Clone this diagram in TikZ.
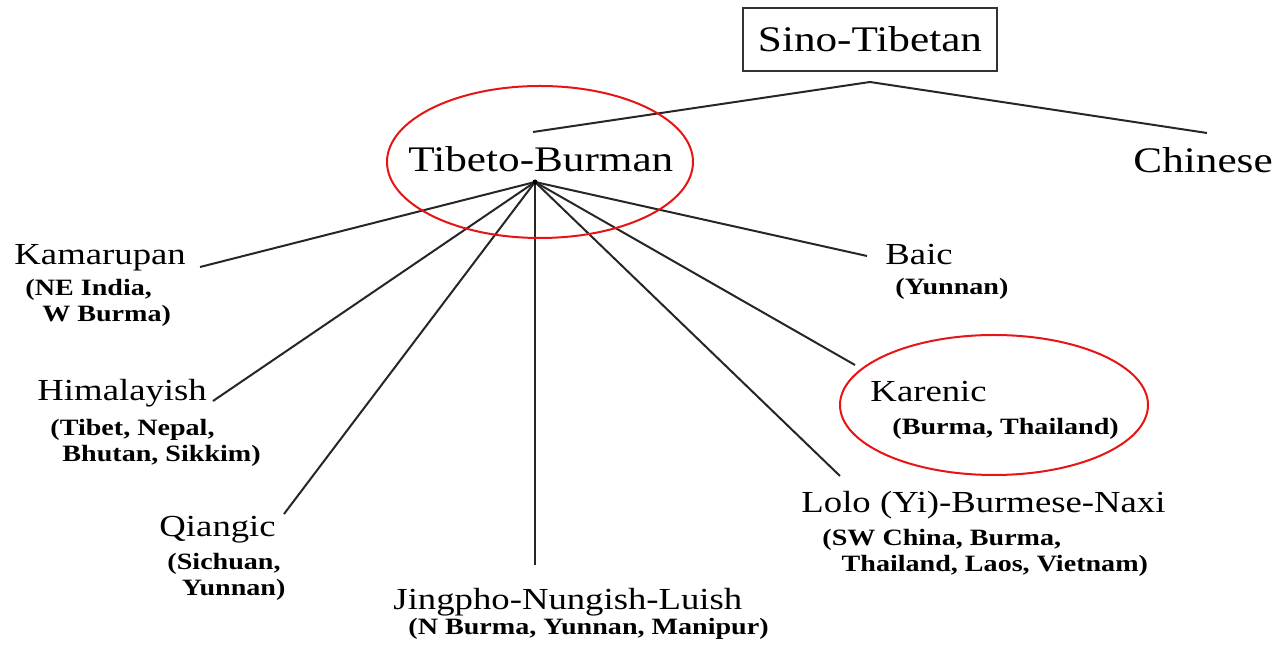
\documentclass[tikz,border=0pt]{standalone}
\usepackage{fontspec}
\setmainfont{Liberation Serif}
\definecolor{ringred}{RGB}{230,20,20}
\tikzset{
  family/.style={font=\fontsize{18}{20}\selectfont,xscale=1.2,inner sep=0pt,anchor=base west},
  branch/.style={font=\fontsize{15.3}{17}\selectfont,xscale=1.2,inner sep=0pt,anchor=base west},
  region/.style={font=\bfseries\fontsize{11.7}{13}\selectfont,xscale=1.2,inner sep=0pt,anchor=base west,align=left},
  link/.style={draw=black!85,line width=1pt},
  ring/.style={draw=ringred,line width=1pt}
}
\begin{document}
\begin{tikzpicture}[x=0.5pt,y=-0.5pt]
  \useasboundingbox (0,0) rectangle (1280,651);
  % top of the tree
  \node[draw=black!80,line width=0.8pt,font=\fontsize{18}{20}\selectfont,xscale=1.2,
        minimum width=105.8pt,minimum height=31.5pt,inner sep=0pt] (st) at (870,39.5) {Sino-Tibetan};
  \node[family] (tb) at (408,172) {Tibeto-Burman};
  \node[family] (zh) at (1133,173) {Chinese};
  \coordinate (st fork) at (870,82);
  \coordinate (tb top) at (533,132);
  \coordinate (zh top) at (1207,133);
  \coordinate (hub) at (535,182);
  \draw[link] (tb top) -- (st fork) -- (zh top);

  % branches (region nodes sit on the baseline of their last line)
  \node[branch] (kam) at (14,265) {Kamarupan};
  \node[region] (kam sub) at (25,322) {(NE India,\\\hspace*{7pt}W Burma)};
  \node[branch] (him) at (37,401) {Himalayish};
  \node[region] (him sub) at (50,462) {(Tibet, Nepal,\\\hspace*{5pt}Bhutan, Sikkim)};
  \node[branch] (qia) at (159,537) {Qiangic};
  \node[region] (qia sub) at (167,596) {(Sichuan,\\\hspace*{6pt}Yunnan)};
  \node[branch] (jin) at (393,610) {Jingpho-Nungish-Luish};
  \node[region] (jin sub) at (408,635) {(N Burma, Yunnan, Manipur)};
  \node[branch] (lol) at (801,513) {Lolo (Yi)-Burmese-Naxi};
  \node[region] (lol sub) at (822,572) {(SW China, Burma,\\\hspace*{8pt}Thailand, Laos, Vietnam)};
  \node[branch] (kar) at (870,402) {Karenic};
  \node[region] (kar sub) at (892,435) {(Burma, Thailand)};
  \node[branch] (bai) at (885,265) {Baic};
  \node[region] (bai sub) at (895,295) {(Yunnan)};

  \coordinate (kam end) at (200,267);
  \coordinate (him end) at (213,401);
  \coordinate (qia end) at (284,514);
  \coordinate (jin end) at (535,565);
  \coordinate (lol end) at (840,476);
  \coordinate (kar end) at (855,365);
  \coordinate (bai end) at (867,256);
  \foreach \b in {kam,him,qia,jin,lol,kar,bai}
    \draw[link] (hub) -- (\b\space end);
  \fill[black] (hub) circle[radius=2.5];

  % highlighted groups
  \draw[ring] (540,162) ellipse[x radius=153,y radius=76];
  \draw[ring] (994,405) ellipse[x radius=154,y radius=70];
\end{tikzpicture}
\end{document}
